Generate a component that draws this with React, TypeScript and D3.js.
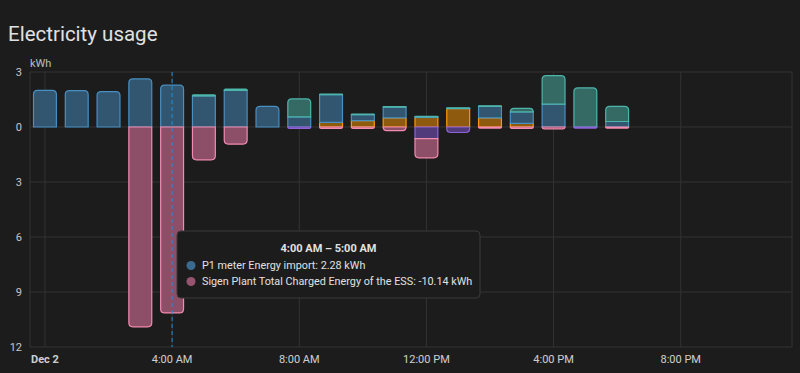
import React, { useEffect } from 'react';
import * as d3 from 'd3';

// hours of Dec 2 that have data (bar for hour h covers h:00 – h+1:00)
const hours = [0, 1, 2, 3, 4, 5, 6, 7, 8, 9, 10, 11, 12, 13, 14, 15, 16, 17, 18];

// above zero (kWh)
const solarUsed = [0, 0, 0, 0, 0, 0, 0, 0, 0, 0.25, 0.35, 0.5, 0.52, 1.0, 0.5, 0.2, 0, 0, 0];
const gridImport = [2.0, 1.98, 1.93, 2.62, 2.28, 1.7, 2.0, 1.12, 0.55, 1.52, 0.32, 0.58, 0.03, 0.02, 0.63, 0.62, 1.25, 0, 0.3];
const batteryOut = [0, 0, 0, 0, 0, 0.05, 0.07, 0, 0.98, 0.03, 0.03, 0.03, 0.03, 0.03, 0.03, 0.2, 1.55, 2.13, 0.82];

// below zero (kWh, shown as magnitude)
const gridExport = [0, 0, 0, 0, 0, 0, 0, 0, 0.07, 0, 0, 0, 0.63, 0.3, 0, 0, 0, 0.06, 0];
const batteryIn = [0, 0, 0, 10.9, 10.14, 1.79, 0.93, 0, 0, 0.08, 0.08, 0.2, 1.05, 0, 0.06, 0.07, 0.1, 0, 0.06];

const yTicks = [3, 0, -3, -6, -9, -12];
const xTickHours = [0, 4, 8, 12, 16, 20];

const tooltipHour = 4;
const tooltipTitle = '4:00 AM – 5:00 AM';
const importName = 'P1 meter Energy import';
const chargeName = 'Sigen Plant Total Charged Energy of the ESS';

const W = 800;
const H = 373;
const bg = '#1c1c1c';
const gridColor = '#333333';
const textColor = '#e1e1e1';
const font = 'Roboto, "Noto Sans", sans-serif';

const colors = {
  grid: { stroke: '#488fc2', fill: '#32566f' },
  solar: { stroke: '#ff9800', fill: '#8e5a0e' },
  batteryOut: { stroke: '#4db6ac', fill: '#356964' },
  batteryIn: { stroke: '#f38bb0', fill: '#8d4e68' },
  export: { stroke: '#8f63d8', fill: '#523b7a' },
};

const day = new Date(2024, 11, 2);
const at = (h: number) => new Date(day.getTime() + h * 3600 * 1000);

const x = d3.scaleTime().domain([at(-0.47), at(23.5)]).range([30, 792]);
const y = d3.scaleLinear().domain([-12, 3]).range([347, 72]);

const barW = (x(at(1)) - x(at(0))) * 0.72;

// rect path with optional rounded top or bottom corners
const segPath = (x0: number, x1: number, yTop: number, yBot: number, round: 'top' | 'bottom' | null) => {
  const h = yBot - yTop;
  const r = Math.min(4, h, (x1 - x0) / 2);
  if (!round || r <= 0.5) {
    return `M${x0},${yTop}H${x1}V${yBot}H${x0}Z`;
  }
  if (round === 'top') {
    return `M${x0},${yBot}V${yTop + r}Q${x0},${yTop} ${x0 + r},${yTop}H${x1 - r}Q${x1},${yTop} ${x1},${yTop + r}V${yBot}Z`;
  }
  return `M${x0},${yTop}H${x1}V${yBot - r}Q${x1},${yBot} ${x1 - r},${yBot}H${x0 + r}Q${x0},${yBot} ${x0},${yBot - r}Z`;
};

type Seg = { key: string; d: string; fill: string; stroke: string };

const buildSegments = (): Seg[] => {
  const segs: Seg[] = [];
  hours.forEach((h, i) => {
    const cx = x(at(h));
    const x0 = cx - barW / 2;
    const x1 = cx + barW / 2;

    const up = [
      { v: solarUsed[i], c: colors.solar },
      { v: gridImport[i], c: colors.grid },
      { v: batteryOut[i], c: colors.batteryOut },
    ].filter(s => s.v > 0);
    let acc = 0;
    up.forEach((s, j) => {
      const yb = y(acc);
      acc += s.v;
      const yt = y(acc);
      segs.push({
        key: `u${h}-${j}`,
        d: segPath(x0, x1, yt, yb, j === up.length - 1 ? 'top' : null),
        fill: s.c.fill,
        stroke: s.c.stroke,
      });
    });

    const down = [
      { v: gridExport[i], c: colors.export },
      { v: batteryIn[i], c: colors.batteryIn },
    ].filter(s => s.v > 0);
    acc = 0;
    down.forEach((s, j) => {
      const yt = y(-acc);
      acc += s.v;
      const yb = y(-acc);
      segs.push({
        key: `d${h}-${j}`,
        d: segPath(x0, x1, yt, yb, j === down.length - 1 ? 'bottom' : null),
        fill: s.c.fill,
        stroke: s.c.stroke,
      });
    });
  });
  return segs;
};

export default function App() {
  useEffect(() => {
    document.body.style.margin = '0';
    document.body.style.background = bg;
  }, []);

  const segs = buildSegments();
  const ti = hours.indexOf(tooltipHour);
  const px = x(at(tooltipHour));

  const tipX = 177;
  const tipY = 231;
  const tipW = 303;
  const tipH = 67;

  return (
    <svg width={W} height={H} style={{ display: 'block', background: bg }} fontFamily={font}>
      <rect width={W} height={H} fill={bg} />
      <text x={8} y={41} fill={textColor} fontSize={20.5}>Electricity usage</text>
      <text x={30} y={67} fill={textColor} fontSize={11} opacity={0.8}>kWh</text>

      {/* horizontal grid + y labels */}
      {yTicks.map(t => (
        <g key={`y${t}`}>
          <line x1={30} x2={792} y1={y(t)} y2={y(t)} stroke={gridColor} />
          <text x={22} y={y(t)} dy="0.35em" textAnchor="end" fill={textColor} fontSize={11} opacity={0.85}>
            {Math.abs(t)}
          </text>
        </g>
      ))}

      {/* vertical grid + x labels */}
      <line x1={30} x2={30} y1={72} y2={347} stroke={gridColor} />
      <line x1={792} x2={792} y1={72} y2={347} stroke={gridColor} />
      {xTickHours.map(h => {
        const xx = x(at(h));
        return (
          <g key={`x${h}`}>
            <line x1={xx} x2={xx} y1={72} y2={347} stroke={gridColor} />
            <text
              x={xx}
              y={363}
              textAnchor="middle"
              fill={textColor}
              fontSize={11}
              fontWeight={h === 0 ? 700 : 400}
              opacity={0.9}
            >
              {h === 0 ? d3.timeFormat('%b %-d')(at(h)) : d3.timeFormat('%-I:%M %p')(at(h))}
            </text>
          </g>
        );
      })}

      {/* bars */}
      {segs.map(s => (
        <path key={s.key} d={s.d} fill={s.fill} stroke={s.stroke} strokeWidth={1.2} />
      ))}

      {/* axis pointer */}
      <line x1={px} x2={px} y1={72} y2={347} stroke="#1e8fe0" strokeWidth={1} strokeDasharray="4 3" />

      {/* tooltip */}
      <g>
        <rect x={tipX} y={tipY} width={tipW} height={tipH} rx={4} fill="#1c1c1c" stroke="#3a3a3a" />
        <text x={tipX + tipW / 2} y={252} textAnchor="middle" fill={textColor} fontSize={11} fontWeight={700}>
          {tooltipTitle}
        </text>
        <circle cx={191} cy={265.5} r={4.5} fill="#3b6a8f" />
        <text x={202} y={265.5} dy="0.35em" fill={textColor} fontSize={10.8}>
          {`${importName}: ${gridImport[ti].toFixed(2)} kWh`}
        </text>
        <circle cx={191} cy={281.5} r={4.5} fill="#975470" />
        <text x={202} y={281.5} dy="0.35em" fill={textColor} fontSize={10.8}>
          {`${chargeName}: ${(-batteryIn[ti]).toFixed(2)} kWh`}
        </text>
      </g>
    </svg>
  );
}
